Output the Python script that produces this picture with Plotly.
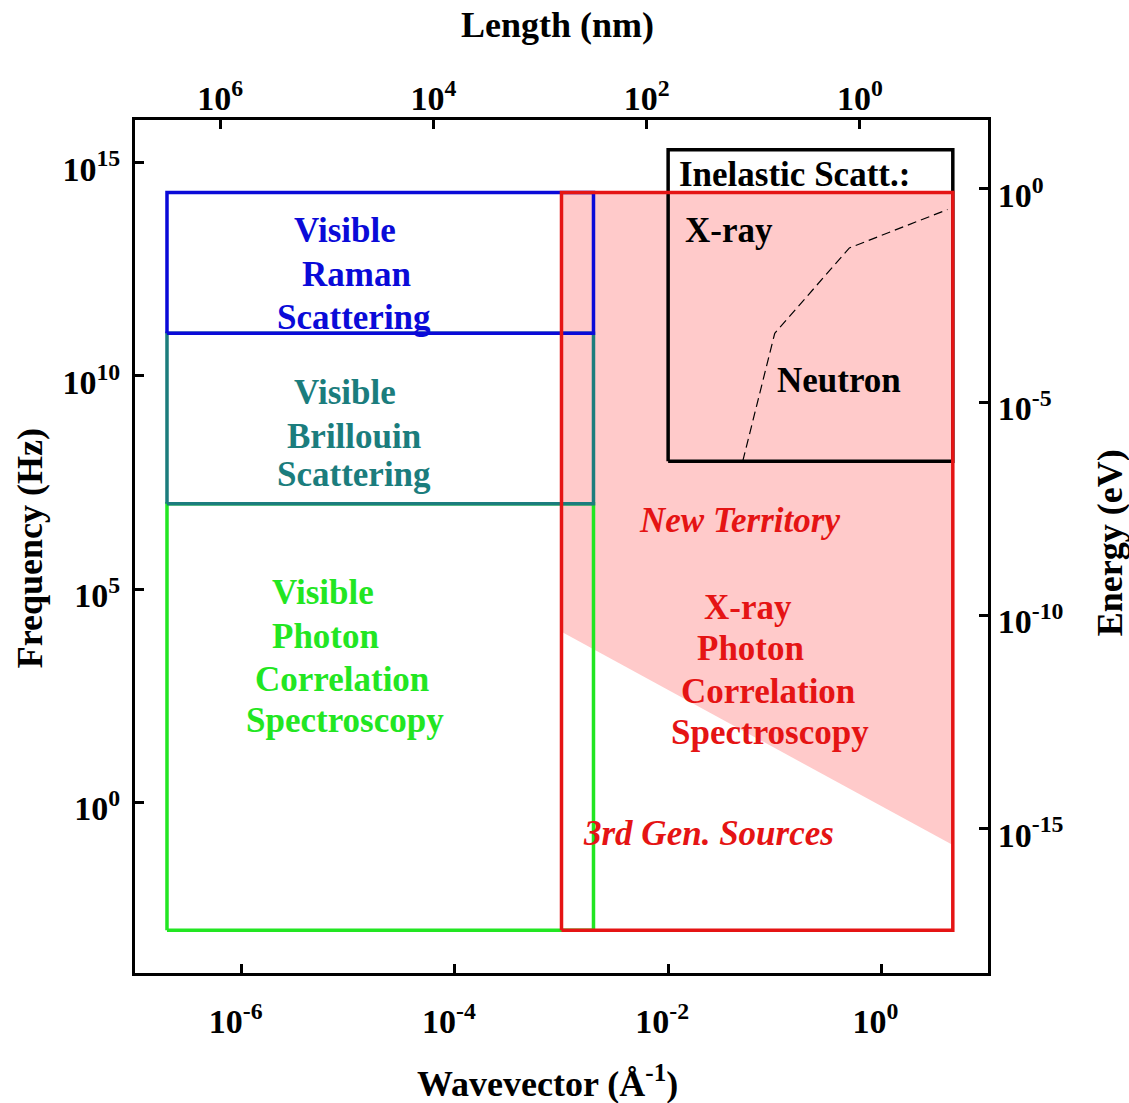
import math
import plotly.graph_objects as go

# Technique regions: wavevector span (1/Å) and frequency span (Hz), as log10 values
region_names = ["Visible Raman", "Visible Brillouin", "Visible PCS", "Inelastic Scatt.", "XPCS"]
region_logq_lo = [-6.7, -6.7, -6.7, -2.0, -3.0]
region_logq_hi = [-2.7, -2.7, -2.7, 0.67, 0.67]
region_logf_lo = [11.0, 7.0, -3.0, 8.0, -3.0]
region_logf_hi = [14.3, 11.0, 7.0, 15.3, 14.3]
region_colors = ["#0a0ad8", "#1b7d7d", "#22e622", "#000000", "#e51414"]

# "New Territory" area reachable by XPCS beyond 3rd generation sources (log10 q, log10 f)
territory_logq = [-3.0, 0.67, 0.67, -3.0]
territory_logf = [14.3, 14.3, -1.0, 4.0]

# X-ray / neutron boundary for inelastic scattering (log10 q, log10 f)
boundary_logq = [-1.3, -1.0, -0.3, 0.62]
boundary_logf = [8.0, 11.0, 13.0, 13.9]

# Axis ticks
q_ticks = [1e-6, 1e-4, 1e-2, 1e0]
q_ticktext = ["10<sup>-6</sup>", "10<sup>-4</sup>", "10<sup>-2</sup>", "10<sup>0</sup>"]
f_ticks = [1e15, 1e10, 1e5, 1e0]
f_ticktext = ["10<sup>15</sup>", "10<sup>10</sup>", "10<sup>5</sup>", "10<sup>0</sup>"]
len_ticks = [1e6, 1e4, 1e2, 1e0]
len_ticktext = ["10<sup>6</sup>", "10<sup>4</sup>", "10<sup>2</sup>", "10<sup>0</sup>"]
e_ticks = [1e0, 1e-5, 1e-10, 1e-15]
e_ticktext = ["10<sup>0</sup>", "10<sup>-5</sup>", "10<sup>-10</sup>", "10<sup>-15</sup>"]

Q_RANGE = [-7.0, 1.0]
F_RANGE = [-4.0, 16.0]
HZ_PER_EV = 2.418e14          # E = h f
LEN_FACTOR = 2 * math.pi / 10  # L(nm) = 2π / (10 q[1/Å])

FONT = "Liberation Serif"
fig = go.Figure()

# pink territory fill
fig.add_trace(go.Scatter(
    x=[10 ** v for v in territory_logq], y=[10 ** v for v in territory_logf],
    mode="lines", fill="toself", fillcolor="#ffcaca", line=dict(width=0),
    hoverinfo="skip", showlegend=False))


def rect_trace(i, width):
    x0, x1 = 10 ** region_logq_lo[i], 10 ** region_logq_hi[i]
    y0, y1 = 10 ** region_logf_lo[i], 10 ** region_logf_hi[i]
    return go.Scatter(x=[x0, x1, x1, x0, x0], y=[y0, y0, y1, y1, y0],
                      mode="lines", line=dict(color=region_colors[i], width=width),
                      name=region_names[i], hoverinfo="name", showlegend=False)


# inelastic scattering box and its X-ray/neutron boundary
fig.add_trace(rect_trace(3, 3.5))
fig.add_trace(go.Scatter(
    x=[10 ** v for v in boundary_logq], y=[10 ** v for v in boundary_logf],
    mode="lines", line=dict(color="black", width=1.2, dash="9px,5px"),
    hoverinfo="skip", showlegend=False))

# visible-light techniques, then XPCS on top
for i in (2, 1, 0):
    fig.add_trace(rect_trace(i, 3.5))
fig.add_trace(rect_trace(4, 3.5))

# secondary axes (length on top, energy on right) carry the converted region corners
all_q = [10 ** v for v in region_logq_lo + region_logq_hi]
all_f = [10 ** v for v in region_logf_lo + region_logf_hi]
fig.add_trace(go.Scatter(
    x=[LEN_FACTOR / q for q in all_q], y=[f / HZ_PER_EV for f in all_f],
    xaxis="x2", yaxis="y2", mode="markers", marker=dict(opacity=0),
    hoverinfo="skip", showlegend=False))

tick_font = dict(family=FONT, size=34, color="black", weight="bold")
common = dict(type="log", showgrid=False, zeroline=False, showline=True,
              linecolor="black", linewidth=3, ticks="inside", ticklen=9,
              tickwidth=3, tickcolor="black", tickfont=tick_font)

log_len_lo = math.log10(LEN_FACTOR) - Q_RANGE[0]
log_len_hi = math.log10(LEN_FACTOR) - Q_RANGE[1]
log_e_lo = F_RANGE[0] - math.log10(HZ_PER_EV)
log_e_hi = F_RANGE[1] - math.log10(HZ_PER_EV)

fig.update_layout(
    width=1129, height=1103,
    margin=dict(l=135, r=141, t=120, b=130),
    paper_bgcolor="white", plot_bgcolor="white",
    xaxis=dict(range=Q_RANGE, tickvals=q_ticks, ticktext=q_ticktext,
               ticklabelstandoff=16, ticklabelshift=-6, **common),
    yaxis=dict(range=F_RANGE, tickvals=f_ticks, ticktext=f_ticktext,
               ticklabelstandoff=5, ticklabelshift=6, **common),
    xaxis2=dict(range=[log_len_lo, log_len_hi], overlaying="x", side="top",
                tickvals=len_ticks, ticktext=len_ticktext,
                ticklabelstandoff=-7, **common),
    yaxis2=dict(range=[log_e_lo, log_e_hi], overlaying="y", side="right",
                tickvals=e_ticks, ticktext=e_ticktext,
                ticklabelstandoff=0, ticklabelshift=6, **common),
)

# axis titles
title_font = dict(family=FONT, size=36, color="black", weight="bold")
for text, x, y, angle in [
    ("Length (nm)", 0.495, 1.111, 0),
    ("Wavevector (Å<sup>-1</sup>)", 0.484, -0.127, 0),
    ("Frequency (Hz)", -0.123, 0.498, -90),
    ("Energy (eV)", 1.143, 0.505, -90),
]:
    fig.add_annotation(text=text, xref="paper", yref="paper", x=x, y=y,
                       xanchor="center", yanchor="middle", showarrow=False,
                       textangle=angle, font=title_font)


def label(text, x, y, color, italic=False):
    f = dict(family=FONT, size=35, color=color, weight="bold")
    if italic:
        f["style"] = "italic"
    fig.add_annotation(text=text, x=x, y=y, xref="x", yref="y", showarrow=False,
                       font=f, xanchor="center", yanchor="middle")


blue, teal, green, black, red = region_colors
label("Visible", -5.03, 13.42, blue)
label("Raman", -4.918, 12.38, blue)
label("Scattering", -4.946, 11.36, blue)
label("Visible", -5.03, 9.60, teal)
label("Brillouin", -4.946, 8.57, teal)
label("Scattering", -4.946, 7.68, teal)
label("Visible", -5.237, 4.91, green)
label("Photon", -5.218, 3.90, green)
label("Correlation", -5.059, 2.89, green)
label("Spectroscopy", -5.03, 1.91, green)
label("New Territory", -1.335, 6.62, red, italic=True)
label("X-ray", -1.251, 4.56, red)
label("Photon", -1.232, 3.62, red)
label("Correlation", -1.063, 2.61, red)
label("Spectroscopy", -1.045, 1.63, red)
label("3rd Gen. Sources", -1.626, -0.74, red, italic=True)
label("Inelastic Scatt.:", -0.819, 14.73, black)
label("X-ray", -1.429, 13.40, black)
label("Neutron", -0.397, 9.90, black)

fig.write_html("out.html")
